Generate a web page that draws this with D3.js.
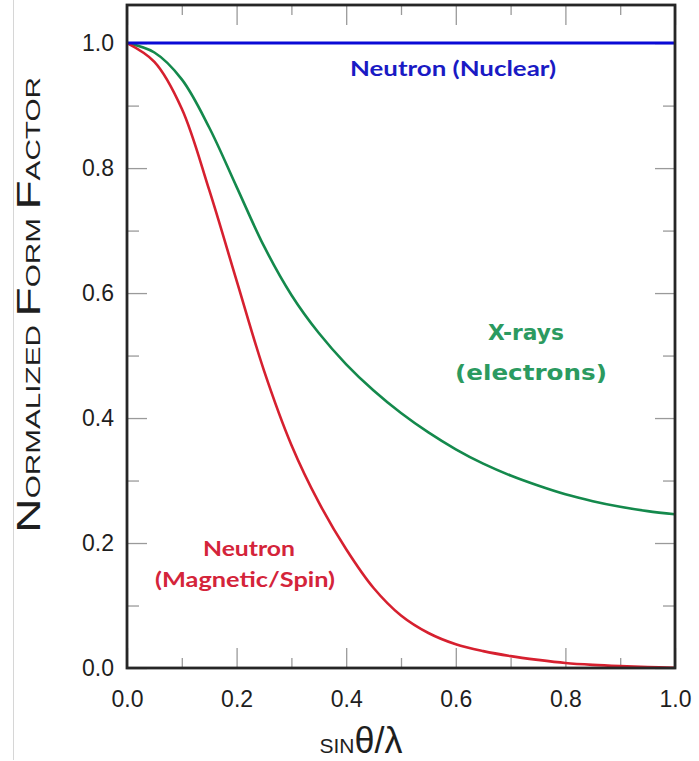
<!DOCTYPE html>
<html>
<head>
<meta charset="utf-8">
<script src="https://cdn.jsdelivr.net/npm/d3@7"></script>
<style>
  html, body { margin: 0; padding: 0; background: #ffffff; }
  svg { display: block; }
</style>
</head>
<body>
<svg id="chart" width="699" height="761"></svg>
<script>
// ---- data ----
const sinThetaOverLambda = [0.00, 0.05, 0.10, 0.15, 0.20, 0.25, 0.30, 0.35, 0.40, 0.45, 0.50,
                            0.55, 0.60, 0.65, 0.70, 0.75, 0.80, 0.85, 0.90, 0.95, 1.00];
const neutronMagnetic = [1.000, 0.970, 0.895, 0.765, 0.620, 0.476, 0.357, 0.265, 0.190, 0.128, 0.084,
                         0.056, 0.038, 0.027, 0.019, 0.013, 0.008, 0.005, 0.003, 0.0015, 0.0005];
const xrayElectrons   = [1.000, 0.985, 0.942, 0.865, 0.770, 0.675, 0.597, 0.536, 0.486, 0.444, 0.408,
                         0.377, 0.350, 0.327, 0.308, 0.292, 0.278, 0.267, 0.258, 0.251, 0.246];
const neutronNuclear  = [1.000, 1.000, 1.000, 1.000, 1.000, 1.000, 1.000, 1.000, 1.000, 1.000, 1.000,
                         1.000, 1.000, 1.000, 1.000, 1.000, 1.000, 1.000, 1.000, 1.000, 1.000];
const majorTicks = [0.0, 0.2, 0.4, 0.6, 0.8, 1.0];
const minorTicks = [0.1, 0.3, 0.5, 0.7, 0.9];
const tickLabels = ["0.0", "0.2", "0.4", "0.6", "0.8", "1.0"];

const seriesNames = ["Neutron (Nuclear)", "X-rays", "Neutron (Magnetic/Spin)"];

// ---- layout ----
const svg = d3.select("#chart");
const L = 127, R = 675, T = 5, B = 668;
const x = d3.scaleLinear().domain([0, 1]).range([L, R]);
const y = d3.scaleLinear().domain([0, 1.061]).range([B, T]);

// faint scan border
svg.append("line").attr("x1", 13.5).attr("x2", 13.5).attr("y1", 0).attr("y2", 760)
  .attr("stroke", "#d6d6d6").attr("stroke-width", 1);

svg.append("clipPath").attr("id", "plotclip").append("rect")
  .attr("x", L).attr("y", T).attr("width", R - L).attr("height", B - T);

const tickColor = "#9a9a9a";
function styleAxis(g) {
  g.select(".domain").remove();
  g.selectAll(".tick line").attr("stroke", tickColor).attr("stroke-width", 1.3);
  g.selectAll(".tick text").attr("fill", "#1e1e1e")
    .style("font-family", "'Liberation Sans', Arial, sans-serif").style("font-size", "23px");
}

// bottom axis (inward ticks + labels)
svg.append("g").attr("transform", `translate(0,${B})`)
  .call(d3.axisBottom(x).tickValues(majorTicks).tickSize(-20).tickPadding(23)
    .tickFormat((d, i) => tickLabels[i]))
  .call(styleAxis);
svg.append("g").attr("transform", `translate(0,${B})`)
  .call(d3.axisBottom(x).tickValues(minorTicks).tickSize(-10).tickFormat(""))
  .call(styleAxis);
// top axis
svg.append("g").attr("transform", `translate(0,${T})`)
  .call(d3.axisTop(x).tickValues(majorTicks).tickSize(-20).tickFormat(""))
  .call(styleAxis);
svg.append("g").attr("transform", `translate(0,${T})`)
  .call(d3.axisTop(x).tickValues(minorTicks).tickSize(-10).tickFormat(""))
  .call(styleAxis);
// left axis
svg.append("g").attr("transform", `translate(${L},0)`)
  .call(d3.axisLeft(y).tickValues(majorTicks).tickSize(-20).tickPadding(13)
    .tickFormat((d, i) => tickLabels[i]))
  .call(styleAxis);
svg.append("g").attr("transform", `translate(${L},0)`)
  .call(d3.axisLeft(y).tickValues(minorTicks).tickSize(-12).tickFormat(""))
  .call(styleAxis);
// right axis
svg.append("g").attr("transform", `translate(${R},0)`)
  .call(d3.axisRight(y).tickValues(majorTicks).tickSize(-20).tickFormat(""))
  .call(styleAxis);
svg.append("g").attr("transform", `translate(${R},0)`)
  .call(d3.axisRight(y).tickValues(minorTicks).tickSize(-12).tickFormat(""))
  .call(styleAxis);

// curves
const line = d3.line()
  .x((d, i) => x(sinThetaOverLambda[i]))
  .y(d => y(d))
  .curve(d3.curveCatmullRom.alpha(0.5));

const plot = svg.append("g").attr("clip-path", "url(#plotclip)");
plot.append("path").datum(xrayElectrons).attr("d", line)
  .attr("fill", "none").attr("stroke", "#14894c").attr("stroke-width", 2.6);
plot.append("path").datum(neutronMagnetic).attr("d", line)
  .attr("fill", "none").attr("stroke", "#d6202f").attr("stroke-width", 2.6);
plot.append("path").datum(neutronNuclear).attr("d", line)
  .attr("fill", "none").attr("stroke", "#0a0ad6").attr("stroke-width", 3);

// frame
svg.append("rect").attr("x", L).attr("y", T).attr("width", R - L).attr("height", B - T)
  .attr("fill", "none").attr("stroke", "#262626").attr("stroke-width", 2.8);

// annotations
const calibriLike = "Lato, 'Open Sans', sans-serif";
const verdanaLike = "'DejaVu Sans', Verdana, sans-serif";
function label(txt, cx, base, color, fam, size, len) {
  svg.append("text").attr("x", cx).attr("y", base)
    .attr("text-anchor", "middle").attr("fill", color)
    .style("font-family", fam).style("font-size", size + "px").style("font-weight", "bold")
    .attr("textLength", len).attr("lengthAdjust", "spacingAndGlyphs")
    .text(txt);
}
label(seriesNames[0], 453, 76, "#1a1ac4", calibriLike, 21, 206);
label("X-rays", 526, 340, "#2b9a60", verdanaLike, 22, 76);
label("(electrons)", 531, 380, "#2b9a60", verdanaLike, 22, 152);
label("Neutron", 249, 556, "#d4243a", calibriLike, 21, 92);
label("(Magnetic/Spin)", 245, 587, "#d4243a", calibriLike, 21, 180);

// y-axis title (small caps)
const yt = svg.append("text")
  .attr("transform", "translate(40,305) rotate(-90)")
  .attr("text-anchor", "middle").attr("fill", "#1e1e1e")
  .attr("textLength", 456).attr("lengthAdjust", "spacingAndGlyphs")
  .style("font-family", "'Liberation Sans', Arial, sans-serif");
[["N", 34], ["ORMALIZED ", 21], ["F", 34], ["ORM ", 21], ["F", 34], ["ACTOR", 21]]
  .forEach(([t, s]) => yt.append("tspan").style("font-size", s + "px").text(t));

// x-axis title
const xt = svg.append("text")
  .attr("x", 361).attr("y", 753)
  .attr("text-anchor", "middle").attr("fill", "#1e1e1e")
  .style("font-family", "'Liberation Sans', Arial, sans-serif");
xt.append("tspan").style("font-size", "21px").text("SIN");
xt.append("tspan").style("font-size", "36px").text("θ/λ");
</script>
</body>
</html>
